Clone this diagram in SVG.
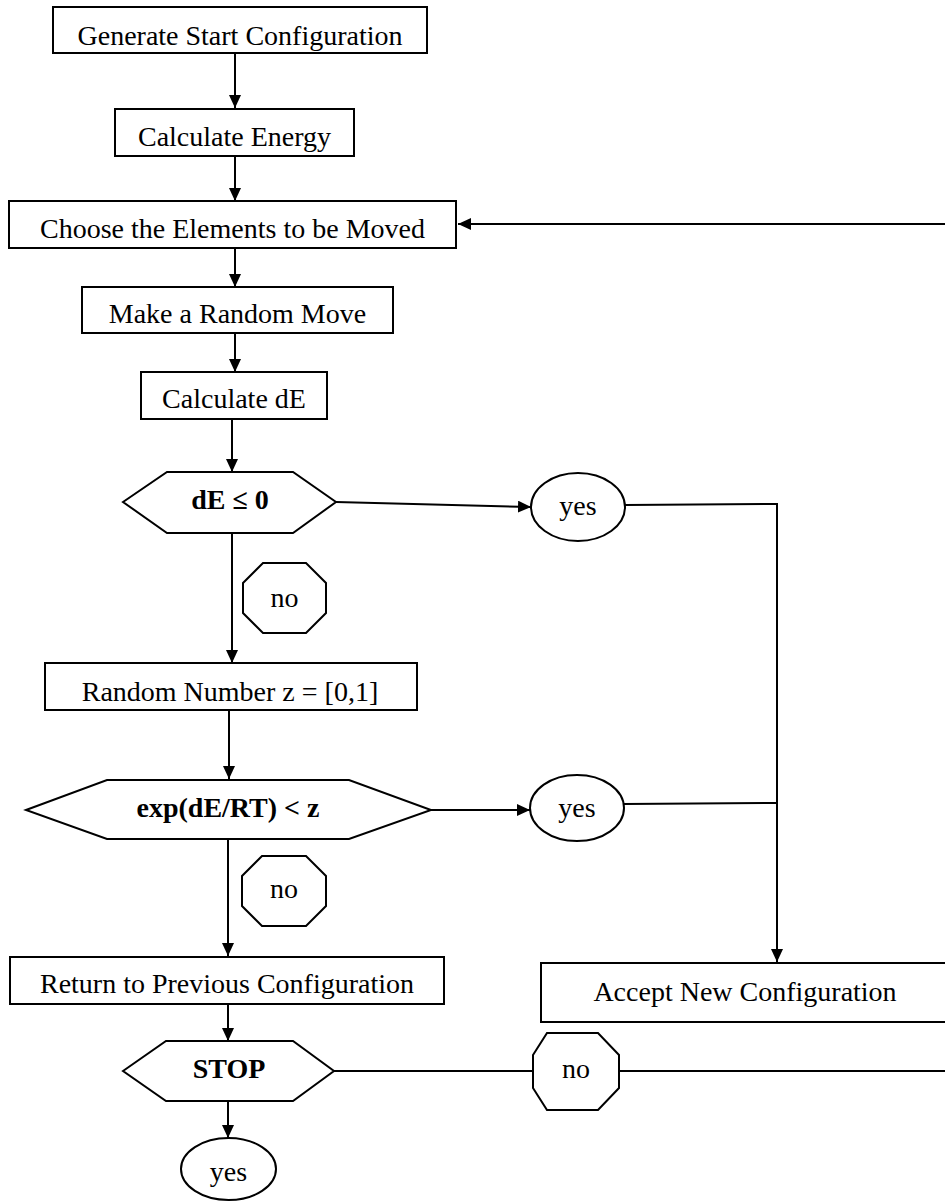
<svg xmlns="http://www.w3.org/2000/svg" width="945" height="1202" viewBox="0 0 945 1202">
<defs>
<style>
.box{fill:#fff;stroke:#000;stroke-width:2}
.ln{fill:none;stroke:#000;stroke-width:2}
.t{font-family:"Liberation Serif","Times New Roman",serif;font-size:28px;fill:#000;text-anchor:middle}
.b{font-weight:bold}
</style>
<marker id="ah" markerUnits="userSpaceOnUse" markerWidth="13" markerHeight="12" refX="13" refY="6" orient="auto">
<path d="M0,0 L13,6 L0,12 z" fill="#000"/>
</marker>
</defs>
<rect width="945" height="1202" fill="#fff"/>
<g id="connectors">
<line class="ln" x1="235" y1="53" x2="235" y2="108" marker-end="url(#ah)"/>
<line class="ln" x1="235" y1="156" x2="235" y2="201" marker-end="url(#ah)"/>
<line class="ln" x1="235" y1="248" x2="235" y2="287" marker-end="url(#ah)"/>
<line class="ln" x1="235" y1="333" x2="235" y2="372" marker-end="url(#ah)"/>
<line class="ln" x1="232" y1="419" x2="232" y2="472" marker-end="url(#ah)"/>
<line class="ln" x1="336" y1="502" x2="531" y2="507" marker-end="url(#ah)"/>
<polyline class="ln" points="625,505 777,504 777,962" marker-end="url(#ah)"/>
<line class="ln" x1="232" y1="533" x2="232" y2="663" marker-end="url(#ah)"/>
<line class="ln" x1="229" y1="710" x2="229" y2="779" marker-end="url(#ah)"/>
<line class="ln" x1="431" y1="810" x2="530" y2="810" marker-end="url(#ah)"/>
<line class="ln" x1="624" y1="804" x2="777" y2="803"/>
<line class="ln" x1="228" y1="839" x2="228" y2="956" marker-end="url(#ah)"/>
<line class="ln" x1="228" y1="1004" x2="228" y2="1041" marker-end="url(#ah)"/>
<line class="ln" x1="228" y1="1101" x2="228" y2="1138" marker-end="url(#ah)"/>
<line class="ln" x1="334" y1="1071" x2="533" y2="1071"/>
<line class="ln" x1="619" y1="1071" x2="946" y2="1071"/>
<line class="ln" x1="946" y1="224" x2="458" y2="224" marker-end="url(#ah)"/>
</g>
<g id="n1"><rect class="box" x="53" y="7" width="374" height="46"/><text class="t" x="240" y="45">Generate Start Configuration</text></g>
<g id="n2"><rect class="box" x="115" y="109" width="239" height="47"/><text class="t" x="234.5" y="146">Calculate Energy</text></g>
<g id="n3"><rect class="box" x="9" y="201" width="447" height="47"/><text class="t" x="232.5" y="238">Choose the Elements to be Moved</text></g>
<g id="n4"><rect class="box" x="82" y="287" width="311" height="46"/><text class="t" x="237.5" y="323">Make a Random Move</text></g>
<g id="n5"><rect class="box" x="141" y="372" width="186" height="47"/><text class="t" x="234" y="408">Calculate dE</text></g>
<g id="d1"><polygon class="box" points="123,502 167,472 293,472 336,502 293,533 167,533"/><text class="t b" x="230" y="509">dE ≤ 0</text></g>
<g id="y1"><ellipse class="box" cx="578" cy="507" rx="47" ry="34"/><text class="t" x="578" y="515">yes</text></g>
<g id="no1"><polygon class="box" points="263,563 306,563 326,583 326,613 306,633 263,633 243,613 243,583"/><text class="t" x="284.5" y="607">no</text></g>
<g id="n6"><rect class="box" x="45" y="663" width="372" height="47"/><text class="t" x="230" y="701">Random Number z = [0,1]</text></g>
<g id="d2"><polygon class="box" points="26,810 107,780 349,780 431,810 349,839 107,839"/><text class="t b" x="228" y="817">exp(dE/RT) &lt; z</text></g>
<g id="y2"><ellipse class="box" cx="577" cy="808" rx="47" ry="33"/><text class="t" x="577" y="817">yes</text></g>
<g id="no2"><polygon class="box" points="262,856 306,856 326,876 326,906 306,926 262,926 242,906 242,876"/><text class="t" x="284" y="898">no</text></g>
<g id="n7"><rect class="box" x="10" y="957" width="434" height="47"/><text class="t" x="227" y="993">Return to Previous Configuration</text></g>
<g id="n8"><rect class="box" x="541" y="963" width="420" height="59"/><text class="t" x="745" y="1001">Accept New Configuration</text></g>
<g id="d3"><polygon class="box" points="123,1071 166,1041 293,1041 334,1071 293,1101 166,1101"/><text class="t b" x="229" y="1078">STOP</text></g>
<g id="no3"><polygon class="box" points="547,1033 598,1033 619,1055 619,1088 598,1110 547,1110 533,1088 533,1055"/><text class="t" x="576" y="1078">no</text></g>
<g id="y3"><ellipse class="box" cx="228.5" cy="1169" rx="47.5" ry="31"/><text class="t" x="228.5" y="1181">yes</text></g>
</svg>
